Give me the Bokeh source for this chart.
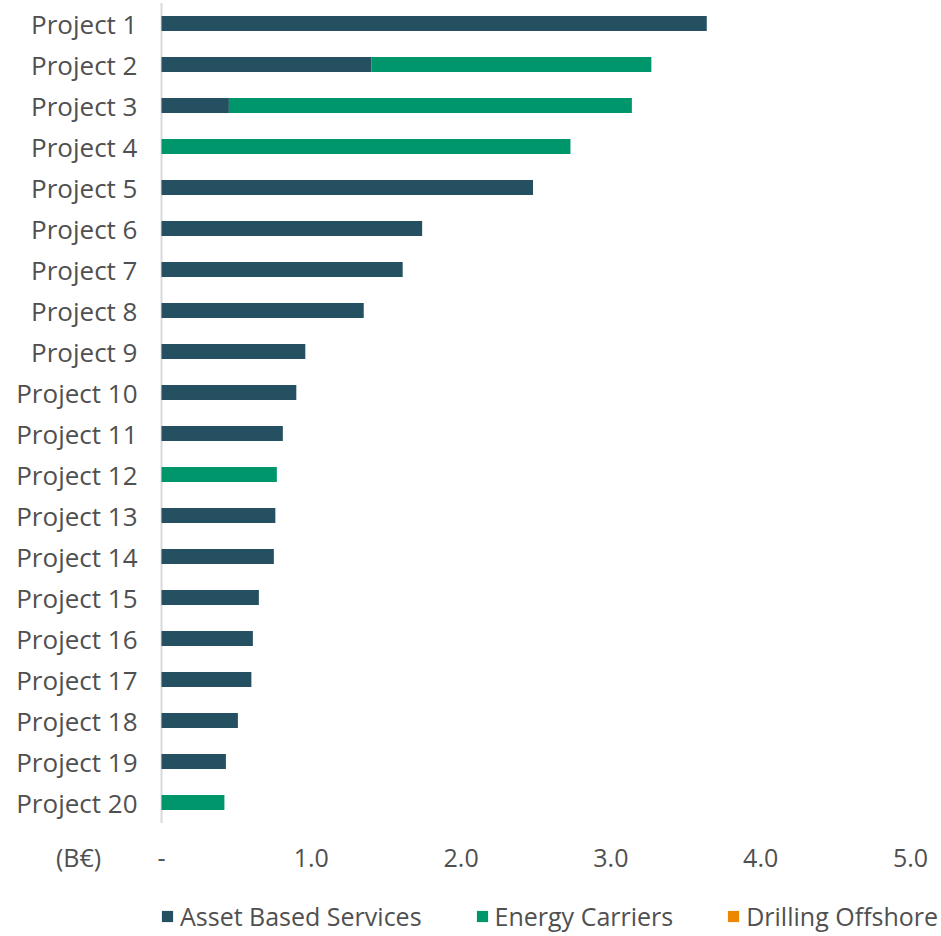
from bokeh.plotting import figure
from bokeh.models import (Range1d, Legend, LegendItem, FixedTicker,
                          NumeralTickFormatter, ColumnDataSource)
from bokeh.embed import file_html
from bokeh.resources import INLINE

# ---------------- data ----------------
projects = ["Project 1", "Project 2", "Project 3", "Project 4", "Project 5",
            "Project 6", "Project 7", "Project 8", "Project 9", "Project 10",
            "Project 11", "Project 12", "Project 13", "Project 14", "Project 15",
            "Project 16", "Project 17", "Project 18", "Project 19", "Project 20"]
asset_based = [3.64, 1.40, 0.45, 0.00, 2.48, 1.74, 1.61, 1.35, 0.96, 0.90,
               0.81, 0.00, 0.76, 0.75, 0.65, 0.61, 0.60, 0.51, 0.43, 0.00]
energy_carriers = [0.00, 1.87, 2.69, 2.73, 0.00, 0.00, 0.00, 0.00, 0.00, 0.00,
                   0.00, 0.77, 0.00, 0.00, 0.00, 0.00, 0.00, 0.00, 0.00, 0.42]
drilling_offshore = [0.00, 0.00, 0.00, 0.00, 0.00, 0.00, 0.00, 0.00, 0.00, 0.00,
                     0.00, 0.00, 0.00, 0.00, 0.00, 0.00, 0.00, 0.00, 0.00, 0.00]
series_names = ["Asset Based Services", "Energy Carriers", "Drilling Offshore"]
x_ticks = [0, 1, 2, 3, 4, 5]
unit_label = "(B€)"

# ---------------- style / layout ----------------
series_colors = ["#245061", "#00966C", "#EE8700"]
FONT = "Open Sans"
TEXT_COLOR = "#505050"
UNIT_X = -0.554          # horizontal position of the unit label, in axis units
ROW_PX = 41

# categorical rows placed on a numeric axis, Project 1 on top
n = len(projects)
ypos = list(range(n, 0, -1))

src = ColumnDataSource(dict(y=ypos, asset=asset_based,
                            energy=energy_carriers, drilling=drilling_offshore))

W, H = 940, 935
MB_L, MB_R, MB_T, MB_B = 20, 0, 0, 2
frame_h = H - MB_T - MB_B
top = n + 23 / ROW_PX
bottom = top - frame_h / ROW_PX
frame_w = W - MB_L - MB_R
px_per_unit = (910 - 161) / 5.0
x_start = -(161 - MB_L) / px_per_unit
x_end = x_start + frame_w / px_per_unit

p = figure(width=W, height=H, output_backend="svg", toolbar_location=None,
           x_range=Range1d(x_start, x_end), y_range=Range1d(bottom, top),
           min_border_left=MB_L, min_border_right=MB_R,
           min_border_top=MB_T, min_border_bottom=MB_B)
p.outline_line_color = None
p.xgrid.grid_line_color = None
p.ygrid.grid_line_color = None
p.background_fill_color = "white"

# vertical axis line at x = 0 spanning the project rows
p.segment(x0=[0], x1=[0], y0=[min(ypos) - 0.5], y1=[max(ypos) + 0.5],
          line_color="#D9D9D9", line_width=2)

rs = p.hbar_stack(["asset", "energy", "drilling"], y="y", height=0.36,
                  color=series_colors, line_color=None, source=src)

# y axis (category labels)
p.yaxis.ticker = FixedTicker(ticks=ypos)
p.yaxis.major_label_overrides = {y: name for y, name in zip(ypos, projects)}
p.yaxis.axis_line_color = None
p.yaxis.major_tick_line_color = None
p.yaxis.minor_tick_line_color = None
p.yaxis.major_label_text_font = FONT
p.yaxis.major_label_text_font_size = "26px"
p.yaxis.major_label_text_color = TEXT_COLOR
p.yaxis.major_label_standoff = -(143 - MB_L)

# x axis (values + unit label)
p.xaxis.ticker = FixedTicker(ticks=[UNIT_X] + x_ticks)
p.xaxis.formatter = NumeralTickFormatter(format="0.0")
p.xaxis.major_label_overrides = {UNIT_X: unit_label, 0: "-"}
p.xaxis.axis_line_color = None
p.xaxis.major_tick_line_color = None
p.xaxis.minor_tick_line_color = None
p.xaxis.major_label_text_font = FONT
p.xaxis.major_label_text_font_size = "25px"
p.xaxis.major_label_text_color = TEXT_COLOR
p.xaxis.major_label_standoff = -100

legend = Legend(items=[LegendItem(label=nm, renderers=[r]) for nm, r in zip(series_names, rs)],
                orientation="horizontal", location=(160 - MB_L, 0),
                glyph_width=14, glyph_height=14, label_standoff=6, spacing=53,
                padding=0, margin=0, border_line_color=None,
                background_fill_alpha=0,
                label_text_font=FONT, label_text_font_size="25px",
                label_text_color=TEXT_COLOR)
p.add_layout(legend)

open("out.html", "w").write(file_html(p, INLINE))
